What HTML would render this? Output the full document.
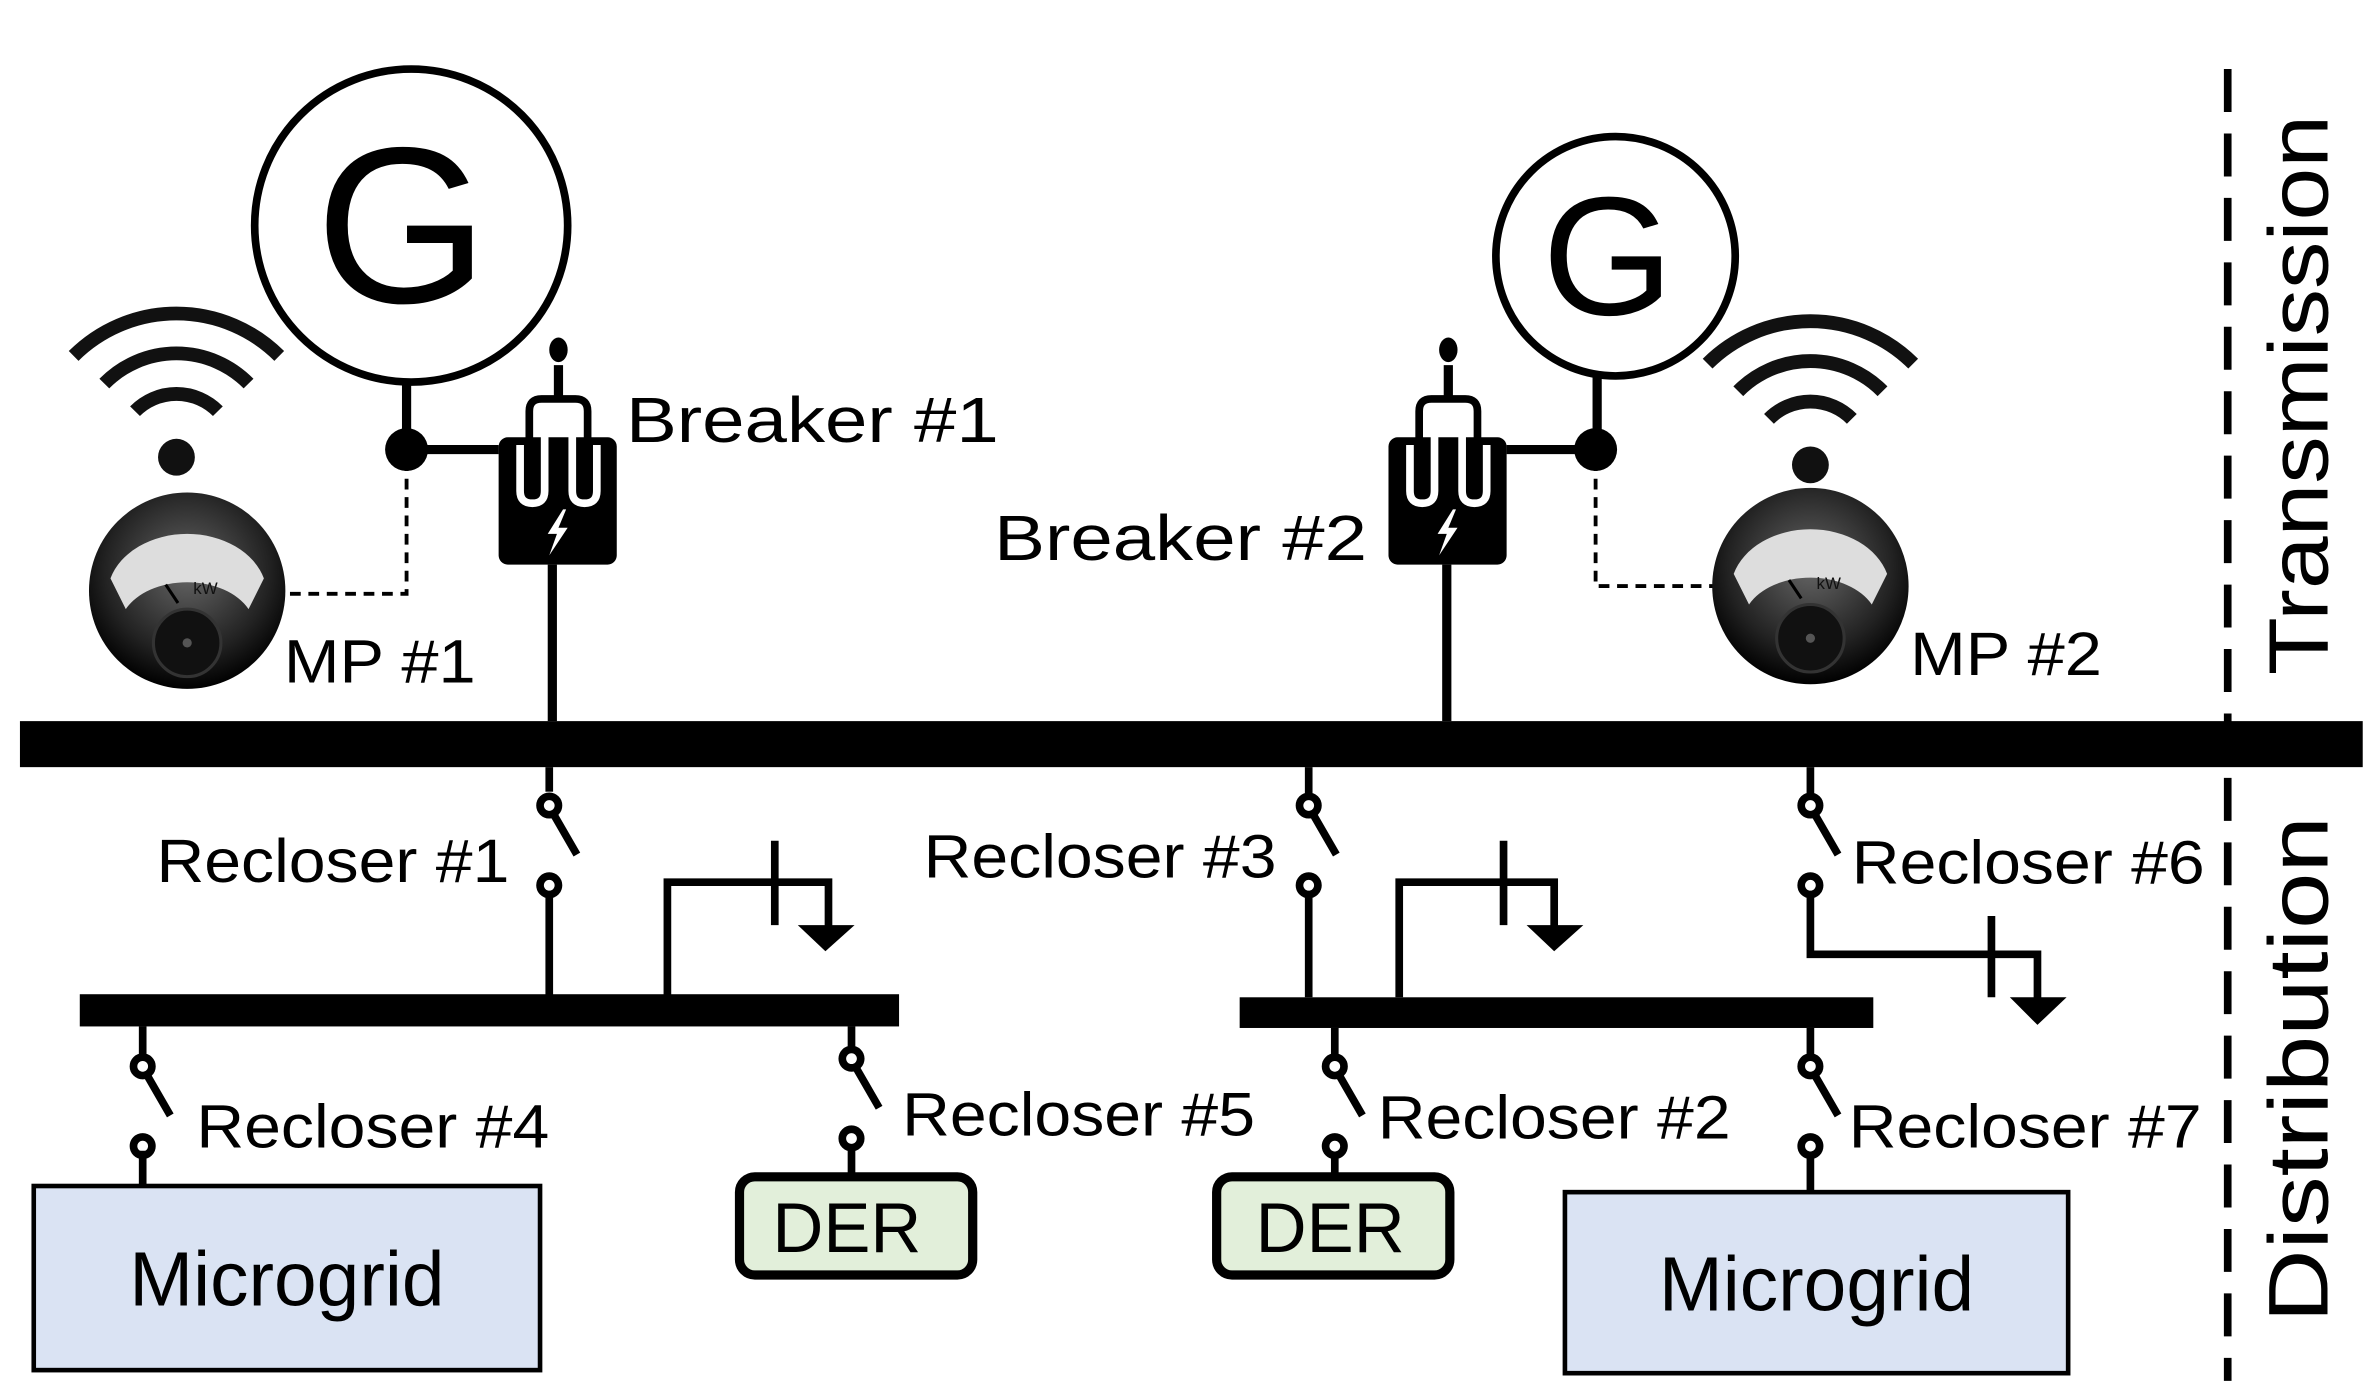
<!DOCTYPE html>
<html><head><meta charset="utf-8"><style>html,body{margin:0;padding:0;background:#fff}svg{display:block}text{font-family:"Liberation Sans",sans-serif}</style></head>
<body>
<svg width="2375" height="1387" viewBox="0 0 1548 904" preserveAspectRatio="none" xmlns="http://www.w3.org/2000/svg">
<defs>
<radialGradient id="mg" cx="50%" cy="40%" r="60%"><stop offset="0" stop-color="#666"/><stop offset="0.7" stop-color="#222"/><stop offset="1" stop-color="#000"/></radialGradient>
<g id="meter">
<circle r="64" fill="url(#mg)"/>
<path d="M-50,-8 A52,40 0 0 1 50,-8 L40,12 A44,30 0 0 0 -40,12 Z" fill="#ddd"/>
<text x="4" y="2" font-size="11" fill="#111">kW</text>
<line x1="-14" y1="-4" x2="-6" y2="8" stroke="#000" stroke-width="2"/>
<circle cx="0" cy="34" r="22" fill="#111" stroke="#333" stroke-width="2"/>
<circle cx="0" cy="34" r="3" fill="#555"/>
</g>
<g id="wifi" fill="none" stroke="#111" stroke-width="9">
<path d="M-67,-18 A95,95 0 0 1 67,-18"/>
<path d="M-47,0 A66,66 0 0 1 47,0"/>
<path d="M-27,18 A38,38 0 0 1 27,18"/>
<circle cx="0" cy="48" r="12" fill="#111" stroke="none"/>
</g>
<g id="brk">
<rect x="0" y="65" width="77" height="83" rx="6" fill="#000"/>
<path d="M14,70 L14,100 Q14,108 22,108 Q30,108 30,100 L30,48 L48,48 L48,100 Q48,108 56,108 Q64,108 64,100 L64,70" fill="none" stroke="#fff" stroke-width="5"/>
<path d="M20,70 L20,48 Q20,40 28,40 L50,40 Q58,40 58,48 L58,70" fill="none" stroke="#000" stroke-width="5"/>
<path d="M39,40 L39,18" stroke="#000" stroke-width="6"/>
<ellipse cx="39" cy="8" rx="6" ry="8" fill="#000"/>
<path d="M42,112 L32,128 L38,128 L33,142 L45,124 L39,124 L44,112 Z" fill="#fff"/>
</g>
<g id="rec" fill="none" stroke="#000" stroke-width="5">
<circle cx="0" cy="0" r="6"/>
<line x1="3" y1="6" x2="18" y2="32"/>
<circle cx="0" cy="52" r="6"/>
</g>
</defs>

<!-- main bus -->
<rect x="13" y="470" width="1527" height="30" fill="#000"/>
<line x1="1452" y1="45" x2="1452" y2="900" stroke="#000" stroke-width="5" stroke-dasharray="28,14"/>
<text transform="translate(1517,440) rotate(-90)" font-size="55" textLength="365" lengthAdjust="spacingAndGlyphs">Transmission</text>
<text transform="translate(1517,862) rotate(-90)" font-size="55" textLength="330" lengthAdjust="spacingAndGlyphs">Distribution</text>

<!-- G1 -->
<circle cx="268" cy="147" r="102" fill="#fff" stroke="#000" stroke-width="5"/>
<text x="262" y="197" font-size="145" text-anchor="middle">G</text>
<line x1="265" y1="249" x2="265" y2="293" stroke="#000" stroke-width="6"/>
<circle cx="265" cy="293" r="14" fill="#000"/>
<line x1="265" y1="293" x2="325" y2="293" stroke="#000" stroke-width="6"/>
<path d="M265,300 V387 H187" fill="none" stroke="#000" stroke-width="2.5" stroke-dasharray="7,5"/>
<use href="#brk" x="325" y="220"/>
<line x1="360" y1="368" x2="360" y2="470" stroke="#000" stroke-width="6"/>
<use href="#wifi" x="115" y="250"/>
<use href="#meter" x="122" y="385"/>
<text x="185" y="445" font-size="40" textLength="125" lengthAdjust="spacingAndGlyphs">MP #1</text>
<text x="408" y="288" font-size="42" textLength="243" lengthAdjust="spacingAndGlyphs">Breaker #1</text>

<!-- G2 -->
<circle cx="1053" cy="167" r="78" fill="#fff" stroke="#000" stroke-width="5"/>
<text x="1048" y="205" font-size="110" text-anchor="middle">G</text>
<line x1="1041" y1="245" x2="1041" y2="293" stroke="#000" stroke-width="6"/>
<circle cx="1040" cy="293" r="14" fill="#000"/>
<line x1="982" y1="293" x2="1040" y2="293" stroke="#000" stroke-width="6"/>
<path d="M1040,300 V382 H1120" fill="none" stroke="#000" stroke-width="2.5" stroke-dasharray="7,5"/>
<use href="#brk" x="905" y="220"/>
<line x1="943" y1="368" x2="943" y2="470" stroke="#000" stroke-width="6"/>
<use href="#wifi" x="1180" y="255"/>
<use href="#meter" x="1180" y="382"/>
<text x="1245" y="440" font-size="40" textLength="125" lengthAdjust="spacingAndGlyphs">MP #2</text>
<text x="648" y="365" font-size="42" textLength="243" lengthAdjust="spacingAndGlyphs">Breaker #2</text>

<g stroke="#000" stroke-width="5" fill="none">
<!-- R1 -->
<line x1="358" y1="500" x2="358" y2="516"/>
<line x1="358" y1="584" x2="358" y2="650"/>
<!-- load1 -->
<path d="M435,650 V575 H540 V605"/>
<line x1="505" y1="548" x2="505" y2="603"/>
<!-- R4 -->
<line x1="93" y1="669" x2="93" y2="689"/>
<line x1="93" y1="750" x2="93" y2="773"/>
<!-- R5 -->
<line x1="555" y1="669" x2="555" y2="684"/>
<line x1="555" y1="746" x2="555" y2="765"/>
<!-- R3 -->
<line x1="853" y1="500" x2="853" y2="519"/>
<line x1="853" y1="583" x2="853" y2="650"/>
<path d="M912,650 V575 H1013 V605"/>
<line x1="980" y1="548" x2="980" y2="603"/>
<!-- R2 -->
<line x1="870" y1="670" x2="870" y2="689"/>
<line x1="870" y1="751" x2="870" y2="765"/>
<!-- R7 -->
<line x1="1180" y1="670" x2="1180" y2="689"/>
<line x1="1180" y1="751" x2="1180" y2="777"/>
<!-- R6 -->
<line x1="1180" y1="500" x2="1180" y2="519"/>
<path d="M1180,581 V622 H1328 V652"/>
<line x1="1298" y1="597" x2="1298" y2="650"/>
</g>
<polygon points="520,603 557,603 538,620" fill="#000"/>
<polygon points="995,603 1032,603 1013,620" fill="#000"/>
<polygon points="1310,650 1347,650 1328,668" fill="#000"/>

<use href="#rec" x="358" y="525"/>
<use href="#rec" x="93" y="695"/>
<use href="#rec" x="555" y="690"/>
<use href="#rec" x="853" y="525"/>
<use href="#rec" x="870" y="695"/>
<use href="#rec" x="1180" y="695"/>
<use href="#rec" x="1180" y="525"/>

<rect x="52" y="648" width="534" height="21" fill="#000"/>
<rect x="808" y="650" width="413" height="20" fill="#000"/>

<rect x="22" y="773" width="330" height="120" fill="#dae3f3" stroke="#000" stroke-width="3"/>
<text x="187" y="851" font-size="50" text-anchor="middle">Microgrid</text>
<rect x="1020" y="777" width="328" height="118" fill="#dae3f3" stroke="#000" stroke-width="3"/>
<text x="1184" y="854" font-size="50" text-anchor="middle">Microgrid</text>
<rect x="482" y="767" width="152" height="64" rx="10" fill="#e2efda" stroke="#000" stroke-width="6"/>
<text x="552" y="816" font-size="46" text-anchor="middle">DER</text>
<rect x="793" y="767" width="152" height="64" rx="10" fill="#e2efda" stroke="#000" stroke-width="6"/>
<text x="867" y="816" font-size="46" text-anchor="middle">DER</text>

<g font-size="40">
<text x="102" y="575" textLength="230" lengthAdjust="spacingAndGlyphs">Recloser #1</text>
<text x="128" y="748" textLength="230" lengthAdjust="spacingAndGlyphs">Recloser #4</text>
<text x="588" y="740" textLength="230" lengthAdjust="spacingAndGlyphs">Recloser #5</text>
<text x="602" y="572" textLength="230" lengthAdjust="spacingAndGlyphs">Recloser #3</text>
<text x="898" y="742" textLength="230" lengthAdjust="spacingAndGlyphs">Recloser #2</text>
<text x="1205" y="748" textLength="230" lengthAdjust="spacingAndGlyphs">Recloser #7</text>
<text x="1207" y="576" textLength="230" lengthAdjust="spacingAndGlyphs">Recloser #6</text>
</g>
</svg>
</body></html>
